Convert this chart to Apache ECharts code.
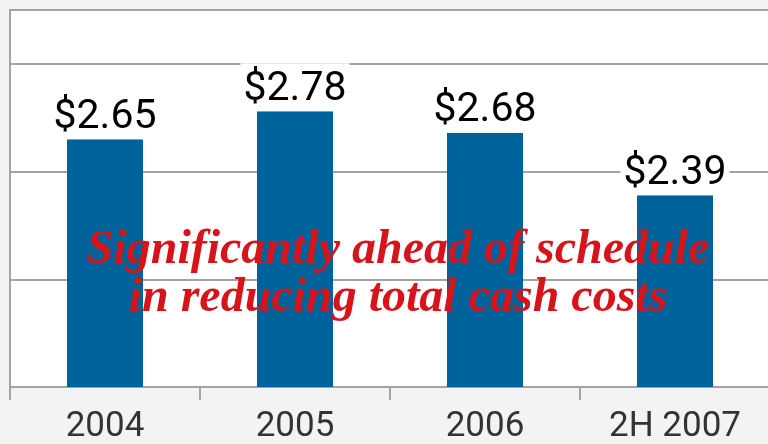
<!DOCTYPE html>
<html>
<head>
<meta charset="utf-8">
<script src="https://cdn.jsdelivr.net/npm/echarts@6/dist/echarts.min.js"></script>
<style>
html,body{margin:0;padding:0;background:#f3f3f3;}
#chart{width:768px;height:444px;}
</style>
</head>
<body>
<div id="chart"></div>
<script>
const categories = ['2004', '2005', '2006', '2H 2007'];
const values = [2.65, 2.78, 2.68, 2.39];
const valueLabels = ['$2.65', '$2.78', '$2.68', '$2.39'];
const yMin = 1.5, yMax = 3.25, yInterval = 0.5;
const noteLines = ['Significantly ahead of schedule', 'in reducing total cash costs'];

const narrow = "'Roboto', 'Liberation Sans', sans-serif";
const serifFont = "italic bold 48px 'Liberation Serif', 'DejaVu Serif', serif";
const chart = echarts.init(document.getElementById('chart'), null, {renderer: 'canvas'});
chart.setOption({
  backgroundColor: '#f3f3f3',
  animation: false,
  grid: {
    left: 10, top: 10, right: -2, bottom: 57,
    outerBoundsMode: 'none', containLabel: false,
    show: true, backgroundColor: '#ffffff', borderColor: '#a3a3a3', borderWidth: 2
  },
  xAxis: {
    type: 'category',
    data: categories,
    boundaryGap: true,
    axisLine: {show: true, lineStyle: {color: '#a3a3a3', width: 2}},
    axisTick: {show: true, length: 13, lineStyle: {color: '#a3a3a3', width: 2}},
    axisLabel: {color: '#333333', fontSize: 35, fontFamily: narrow, margin: 23}
  },
  yAxis: {
    type: 'value',
    min: yMin, max: yMax, interval: yInterval,
    axisLine: {show: true, lineStyle: {color: '#a3a3a3', width: 2}},
    axisTick: {show: false},
    axisLabel: {show: false},
    splitLine: {show: true, lineStyle: {color: '#a3a3a3', width: 2}}
  },
  series: [{
    type: 'bar',
    data: values,
    barWidth: '40%',
    itemStyle: {color: '#00629b'},
    label: {
      show: true, position: 'top', distance: 0,
      formatter: p => valueLabels[p.dataIndex],
      color: '#000000', fontSize: 41, lineHeight: 44, fontFamily: narrow,
      backgroundColor: '#ffffff', padding: [4, 3, 0, 3]
    }
  }],
  graphic: noteLines.map((line, i) => ({
    type: 'text', z: 100,
    x: 398, y: 227 + i * 48,
    style: {
      text: line,
      fill: '#d7141a',
      font: serifFont,
      align: 'center', textAlign: 'center',
      verticalAlign: 'top', textVerticalAlign: 'top'
    }
  }))
});
</script>
</body>
</html>
